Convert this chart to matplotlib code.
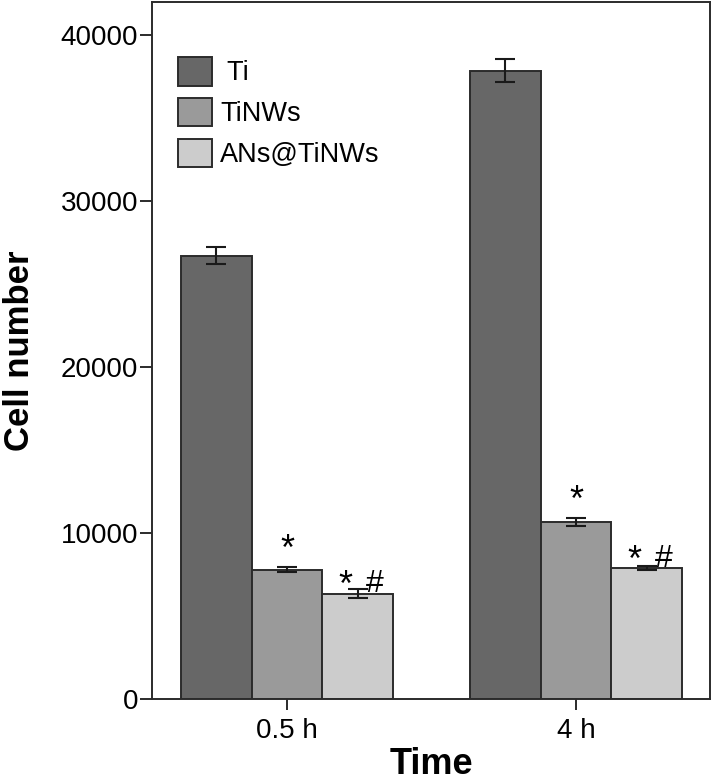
import numpy as np
import matplotlib
matplotlib.use("Agg")
import matplotlib.pyplot as plt

plt.rcParams['font.family'] = ['Liberation Sans', 'DejaVu Sans']

# data
times = ['0.5 h', '4 h']
groups = ['Ti', 'TiNWs', 'ANs@TiNWs']
ti_mean = [26700, 37850]
ti_err = [520, 680]
tinws_mean = [7800, 10650]
tinws_err = [130, 250]
ans_mean = [6350, 7880]
ans_err = [290, 120]

colors = ['#676767', '#9a9a9a', '#cccccc']
edge = '#2b2b2b'

fig = plt.figure(figsize=(7.12, 7.84), dpi=100)
ax = fig.add_axes([152/712, 1 - 699/784, 558/712, 697/784])

x = np.arange(len(times))
w = 0.245
means = [ti_mean, tinws_mean, ans_mean]
errs = [ti_err, tinws_err, ans_err]
labels = [' Ti', 'TiNWs', 'ANs@TiNWs']
for i in range(3):
    ax.bar(x + (i - 1) * w, means[i], w, color=colors[i], edgecolor=edge,
           linewidth=1.4, label=labels[i], zorder=2)
    ax.errorbar(x + (i - 1) * w, means[i], yerr=errs[i], fmt='none',
                ecolor='#1a1a1a', elinewidth=1.5, capsize=7, capthick=1.5, zorder=3)

# significance marks
for j in range(len(times)):
    ax.text(x[j], tinws_mean[j] + tinws_err[j] + 450, '*', ha='center',
            va='baseline', fontsize=26)
    ax.text(x[j] + w - 0.043, ans_mean[j] - 150, '*', ha='center', va='baseline', fontsize=26)
    ax.text(x[j] + w + 0.06, ans_mean[j] + 100, '#', ha='center', va='baseline', fontsize=23)

ax.set_xlim(-0.467, 1.464)
ax.set_ylim(0, 41990)
ax.set_xticks(x)
ax.set_xticklabels(times)
ax.set_yticks([0, 10000, 20000, 30000, 40000])
ax.tick_params(axis='both', labelsize=20, width=1.4, color='#2b2b2b')
ax.tick_params(axis='y', length=9, pad=1)
ax.tick_params(axis='x', length=8, pad=6)
for s in ax.spines.values():
    s.set_linewidth(1.4)
    s.set_color('#2b2b2b')

ax.set_ylabel('Cell number', fontsize=25, fontweight='bold', labelpad=18)
ax.set_xlabel('Time', fontsize=26, fontweight='bold', labelpad=2)

ax.legend(loc='upper left', bbox_to_anchor=((178 - 152) / 558, (699 - 57) / 697),
          frameon=False, fontsize=19.5, handlelength=1.25, handleheight=1.25,
          labelspacing=0.42, handletextpad=0.3, borderpad=0, borderaxespad=0)

fig.savefig('out.png', dpi=100)
